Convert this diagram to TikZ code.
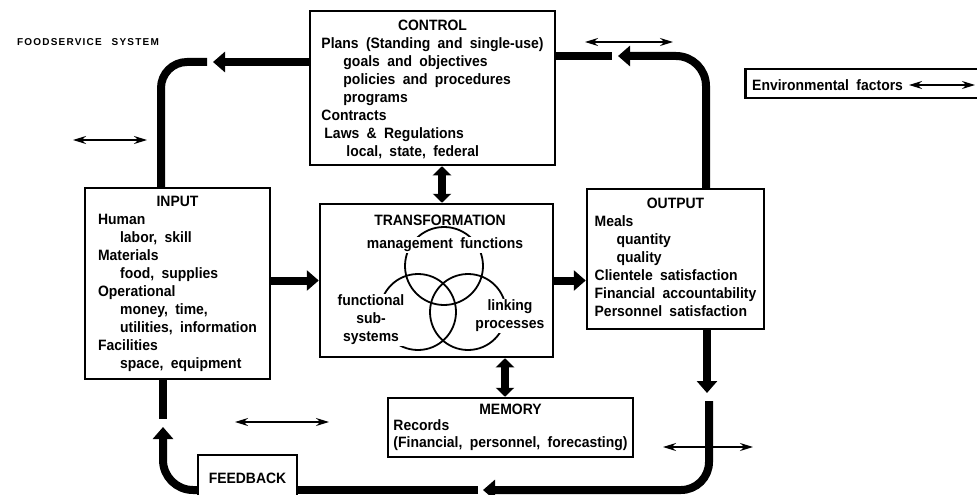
\documentclass[tikz,border=0pt]{standalone}
\usepackage{fontspec}
\setmainfont{Liberation Sans}[FakeStretch=0.93,WordSpace=1.9]
\newfontfamily\sysfont{Liberation Sans}[LetterSpace=12]
\usetikzlibrary{arrows.meta}

\newcommand{\hd}[1]{\multicolumn{1}{@{}c@{}}{#1}}
\newcommand{\ind}{\hspace*{22pt}}

\begin{document}
\begin{tikzpicture}[x=1pt,y=1pt,yscale=-1,
  box/.style={draw,line width=2.5pt,inner sep=0pt,font=\bfseries\fontsize{15}{18}\selectfont},
  lbl/.style={inner sep=1pt,font=\bfseries\fontsize{15}{18}\selectfont},
  flow/.style={line width=8pt},
  flowarr/.style={line width=8pt,-{Triangle[length=12pt,width=20pt]}},
  linkarr/.style={line width=8pt,{Triangle[length=9pt,width=18pt]}-{Triangle[length=9pt,width=18pt]}},
  envarr/.style={line width=1.5pt,{Stealth[length=13pt,width=8pt]}-{Stealth[length=13pt,width=8pt]}}]
\useasboundingbox (0,0) rectangle (977,495);

% Text Node
\node[font=\sysfont\bfseries\fontsize{10}{12}\selectfont] (sys) at (88,42) {FOODSERVICE\hspace{10pt}SYSTEM};

%Shape: Rectangle [control]
\node[box,minimum width=245pt,minimum height=154pt] (ctrl) at (432.5,88)
  {\begin{tabular}{@{}l@{}}\hd{\rule{0pt}{16pt}CONTROL}\\Plans (Standing and single-use)\\\ind goals and objectives\\\ind policies and procedures\\\ind programs\\Contracts\\\hspace*{3pt}Laws \& Regulations\\\hspace*{25pt}local, state, federal\end{tabular}};

%Shape: Rectangle [input]
\node[box,minimum width=185pt,minimum height=191pt] (input) at (177.5,283.5)
  {\begin{tabular}{@{}l@{}}\hd{INPUT}\\Human\\\ind labor, skill\\Materials\\\ind food, supplies\\Operational\\\ind money, time,\\\ind utilities, information\\Facilities\\\ind space, equipment\end{tabular}};

%Shape: Rectangle [transformation]
\node[box,minimum width=233pt,minimum height=153pt] (trans) at (436.5,280.5) {};

%Shape: Rectangle [output]
\node[box,minimum width=177pt,minimum height=140pt] (output) at (675.5,259)
  {\begin{tabular}{@{}l@{}}\hd{OUTPUT}\\Meals\\\ind quantity\\\ind quality\\Clientele satisfaction\\Financial accountability\\Personnel satisfaction\end{tabular}};

%Shape: Rectangle [memory]
\node[box,minimum width=245pt,minimum height=59pt,font=\bfseries\fontsize{15}{16.5}\selectfont] (mem) at (510.5,427.5)
  {\begin{tabular}{@{}l@{}}\hd{MEMORY}\\Records\\(Financial, personnel, forecasting)\end{tabular}};

%Shape: Rectangle [feedback]
\node[box,minimum width=99pt,minimum height=46pt] (fb) at (247.5,478) {FEEDBACK};

%Shape: Rectangle [environment]
\node[box,anchor=west,minimum width=236pt,minimum height=29pt] (env) at (744,83.5) {};
% Text Node
\node[lbl,anchor=west] (envtext) at (751,85) {Environmental factors};

%Shape: Circles [transformation]
\draw[line width=1.8pt] (444,266) circle (39pt);
\draw[line width=1.8pt] (418,312) circle (38pt);
\draw[line width=1.8pt] (468,312) circle (38pt);

% Text Node
\node[lbl] (transtitle) at (440,220) {TRANSFORMATION};
% Text Node
\node[lbl,fill=white] (mgmt) at (445,245) {management functions};
% Text Node
\node[lbl,fill=white,align=center] (subsys) at (371,320) {functional\\sub-\\systems};
% Text Node
\node[lbl,fill=white,align=center] (linking) at (510,316) {linking\\processes};

% Arrows between boxes
\draw[flowarr] (input.east |- trans.west) -- (trans.west);
\draw[flowarr] (trans.east) -- (trans.east -| output.west);
\coordinate (ctCol) at (442,0);
\draw[linkarr] (ctCol |- ctrl.south) -- (ctCol |- trans.north);
\coordinate (tmCol) at (505,0);
\draw[linkarr] (tmCol |- trans.south) -- (tmCol |- mem.north);

% Return loop
\coordinate (outCol) at (706,0);
\coordinate (inCol) at (161,0);
\coordinate (retTip) at (618,56);
\coordinate (retGap) at (612,56);
\draw[flowarr,rounded corners=30pt] (output.north -| outCol) |- (retTip);
\draw[flow] (ctrl.east |- retGap) -- (retGap);
\coordinate (fwdTip) at (213,62);
\coordinate (fwdEnd) at (207,62);
\draw[flowarr] (ctrl.west |- fwdTip) -- (fwdTip);
\draw[flow,rounded corners=26pt] (fwdEnd) -| (input.north -| inCol);

% Feedback loop
\coordinate (outDown) at (707,393);
\coordinate (retStart) at (709,401);
\coordinate (botTip) at (483,490);
\coordinate (botGap) at (478,490);
\coordinate (fbTip) at (163,427);
\coordinate (inGap) at (163,419);
\draw[flowarr] (output.south -| outDown) -- (outDown);
\draw[flowarr,rounded corners=28pt] (retStart) |- (botTip);
\draw[flow] (botGap) -- (botGap -| fb.east);
\draw[flowarr,rounded corners=30pt] (fb.west |- botGap) -| (fbTip);
\draw[flow] (input.south -| inGap) -- (inGap);

% Environmental factors
\coordinate (ea1) at (73,140);   \coordinate (eb1) at (147,140);
\coordinate (ea2) at (585,42);   \coordinate (eb2) at (673,42);
\coordinate (ea3) at (235,422);  \coordinate (eb3) at (329,422);
\coordinate (ea4) at (663,447);  \coordinate (eb4) at (753,447);
\coordinate (ea5) at (909,85);   \coordinate (eb5) at (975,85);
\draw[envarr] (ea1) -- (eb1);
\draw[envarr] (ea2) -- (eb2);
\draw[envarr] (ea3) -- (eb3);
\draw[envarr] (ea4) -- (eb4);
\draw[envarr] (ea5) -- (eb5);

\end{tikzpicture}
\end{document}
